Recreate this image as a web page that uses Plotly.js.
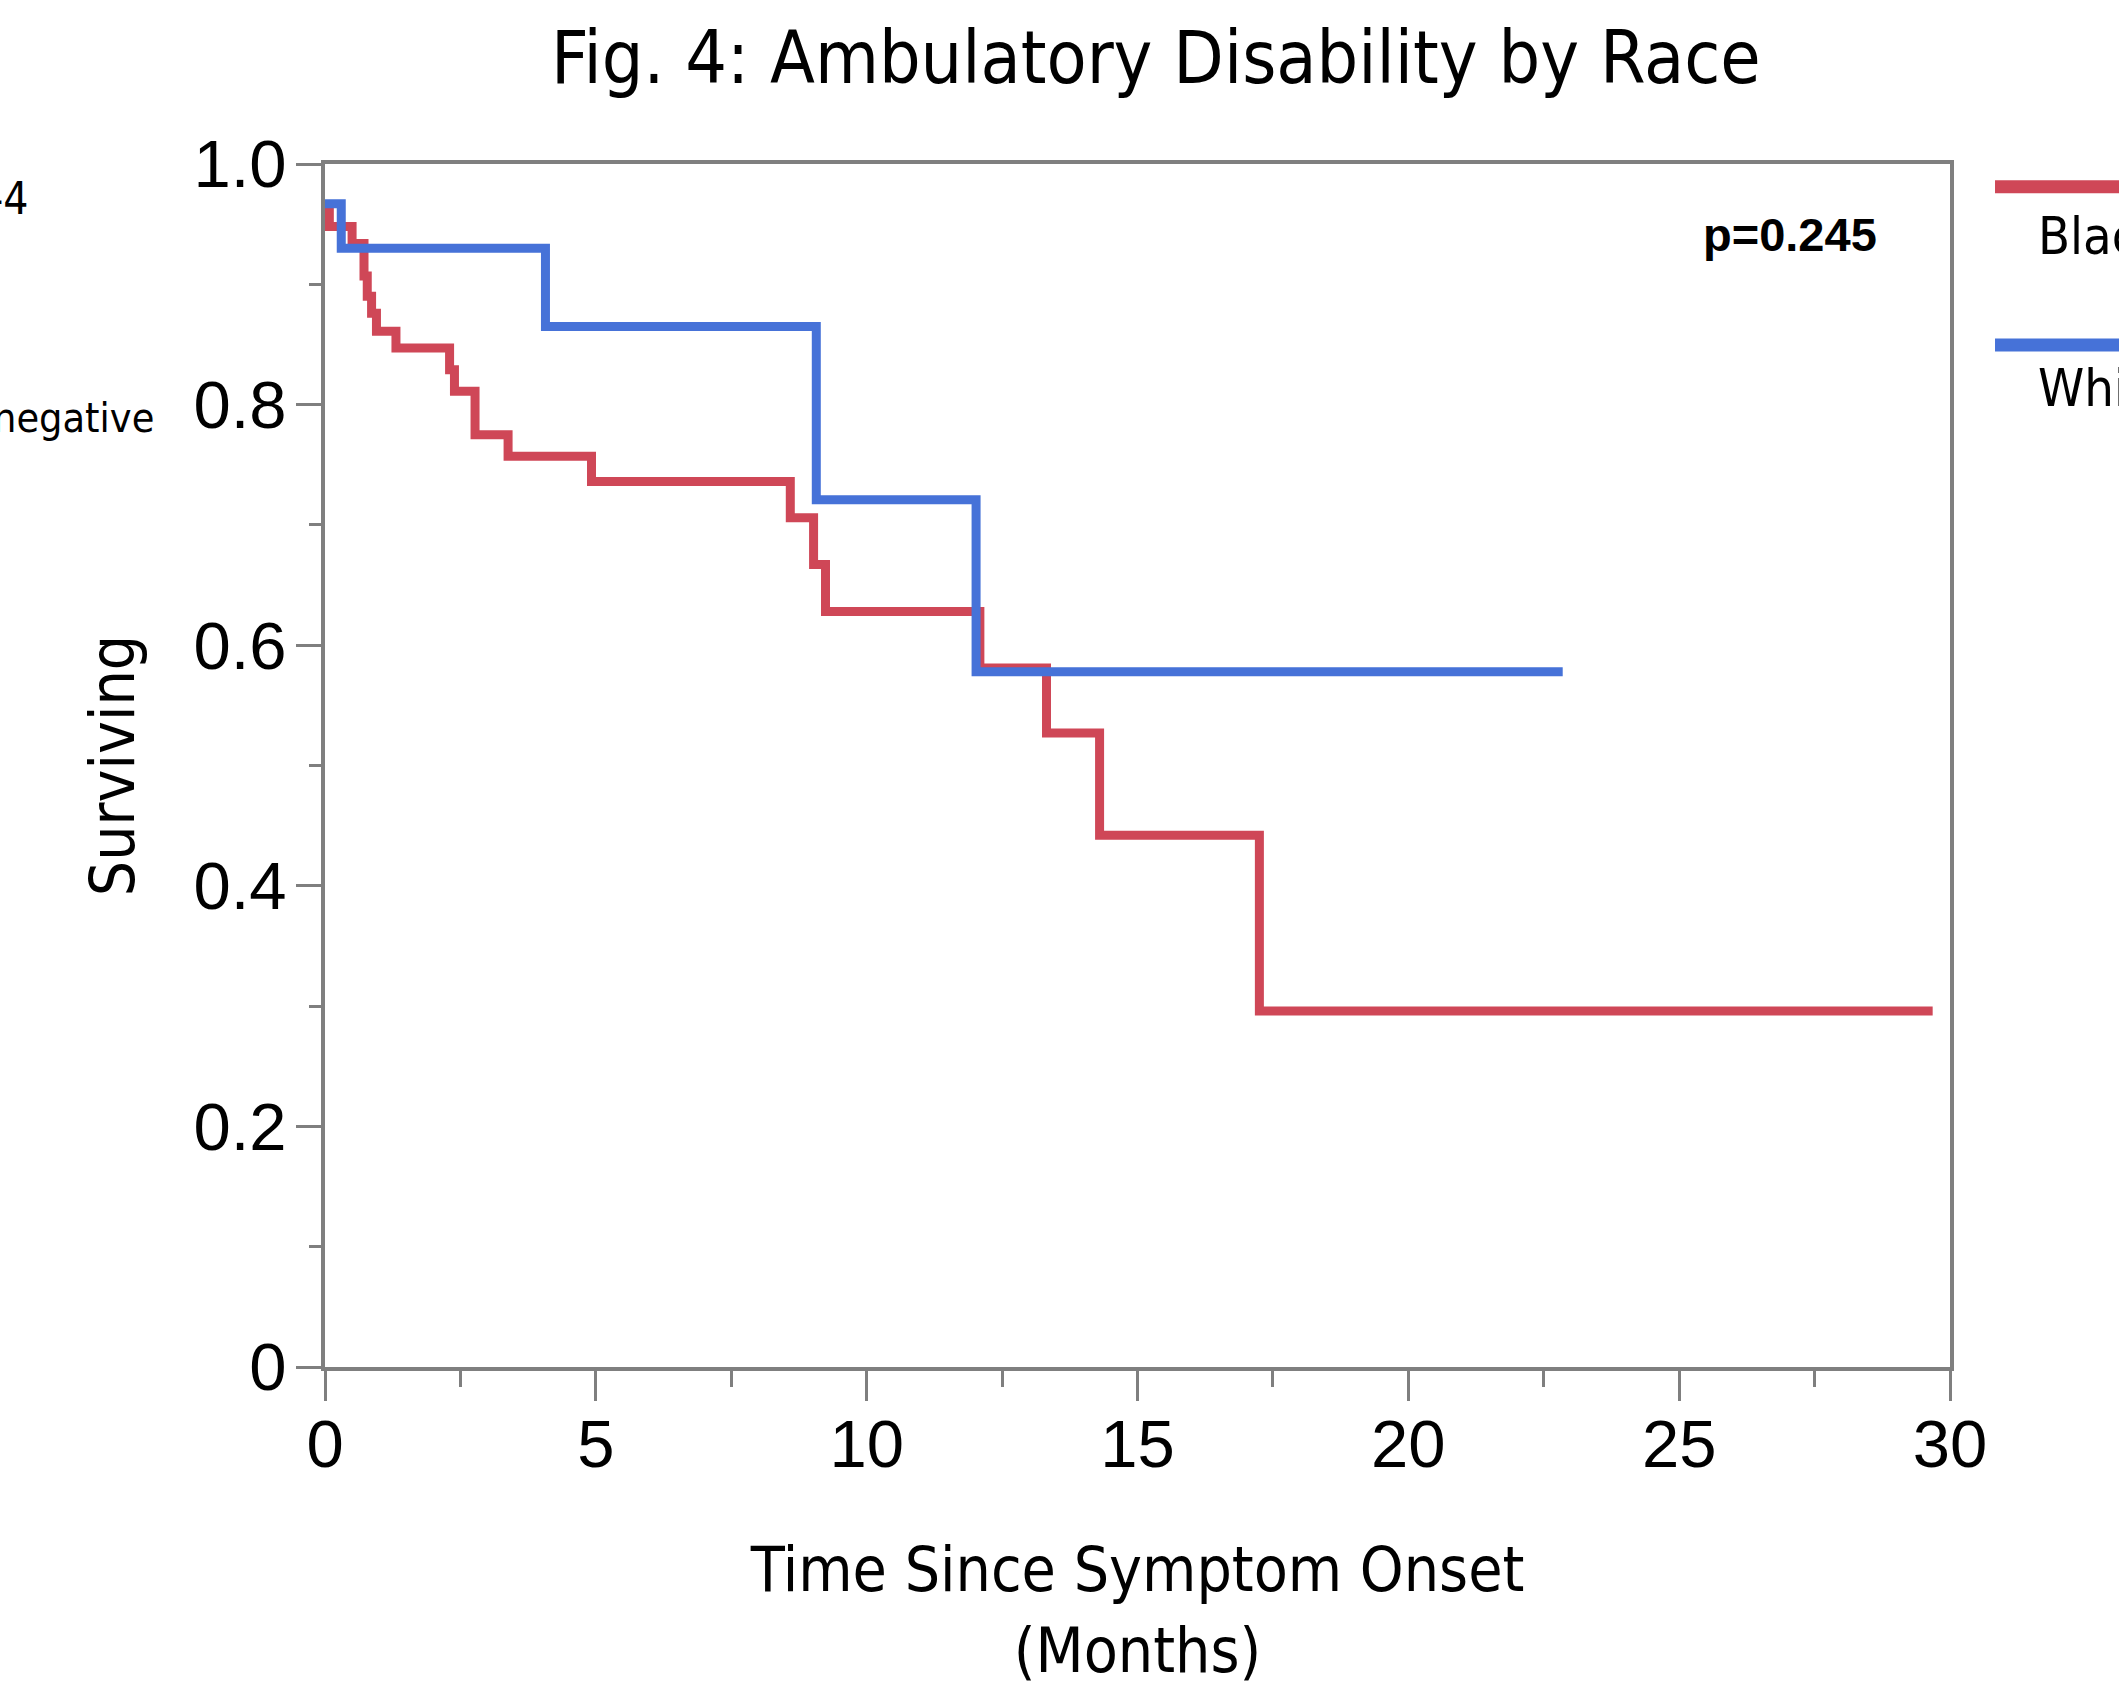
<!DOCTYPE html>
<html>
<head>
<meta charset="utf-8">
<script src="https://cdn.plot.ly/plotly-3.0.1.min.js"></script>
<style>html,body{margin:0;padding:0;background:#fff;}#chart{width:2119px;height:1687px;}</style>
</head>
<body>
<div id="chart"></div>
<script>
// Kaplan-Meier step data (months, survival fraction)
const blackTimes = [0, 0.08, 0.50, 0.72, 0.78, 0.86, 0.95, 1.31, 2.30, 2.39, 2.77, 3.38, 4.92, 8.59, 9.02, 9.24, 12.09, 13.32, 14.30, 17.25, 29.68];
const blackSurv  = [0.960, 0.948, 0.934, 0.907, 0.890, 0.876, 0.861, 0.847, 0.829, 0.811, 0.775, 0.757, 0.736, 0.706, 0.667, 0.628, 0.581, 0.527, 0.442, 0.296, 0.296];
const whiteTimes = [0, 0.30, 4.07, 9.07, 12.02, 22.85];
const whiteSurv  = [0.967, 0.930, 0.865, 0.721, 0.578, 0.578];

const seriesNames = ["Black", "White"];
const yTickVals = [0, 0.2, 0.4, 0.6, 0.8, 1.0];
const yTickText = ["0", "0.2", "0.4", "0.6", "0.8", "1.0"];
const xTickVals = [0, 5, 10, 15, 20, 25, 30];
const xTickText = ["0", "5", "10", "15", "20", "25", "30"];

const RED = "#cf4757", BLUE = "#4672d8", AXIS = "#7f7f7f";
const TXT = "DejaVu Sans Condensed, DejaVu Sans, sans-serif";
const NUM = "Liberation Sans Narrow, Arial Narrow, Liberation Sans, sans-serif";

const traces = [
  {x: blackTimes, y: blackSurv, name: seriesNames[0], mode: "lines", line: {shape: "hv", color: RED, width: 9}, showlegend: false},
  {x: whiteTimes, y: whiteSurv, name: seriesNames[1], mode: "lines", line: {shape: "hv", color: BLUE, width: 9}, showlegend: false}
];

const layout = {
  width: 2119, height: 1687,
  margin: {l: 325, r: 169, t: 164, b: 320},
  paper_bgcolor: "#ffffff", plot_bgcolor: "#ffffff",
  showlegend: false,
  title: {text: "Fig. 4: Ambulatory Disability by Race", font: {family: TXT, size: 73, color: "#000"},
          xref: "container", x: 0.5455, xanchor: "center", yref: "container", y: 0.966, yanchor: "middle"},
  xaxis: {
    range: [0, 30], showgrid: false, zeroline: false,
    showline: true, linecolor: AXIS, linewidth: 4, mirror: true,
    ticks: "outside", ticklen: 30, tickwidth: 3, tickcolor: AXIS,
    tickvals: xTickVals, ticktext: xTickText,
    minor: {dtick: 2.5, tick0: 0, ticks: "outside", ticklen: 16, tickwidth: 3, tickcolor: AXIS},
    tickfont: {family: NUM, size: 67, color: "#000"}, ticklabelstandoff: -14,
    title: {text: "Time Since Symptom Onset<br>(Months)", font: {family: TXT, size: 62, color: "#000"}, standoff: 82}
  },
  yaxis: {
    range: [0, 1], showgrid: false, zeroline: false,
    showline: true, linecolor: AXIS, linewidth: 4, mirror: true,
    ticks: "outside", ticklen: 25, tickwidth: 3, tickcolor: AXIS,
    tickvals: yTickVals, ticktext: yTickText,
    minor: {dtick: 0.1, tick0: 0, ticks: "outside", ticklen: 12, tickwidth: 3, tickcolor: AXIS},
    tickfont: {family: NUM, size: 67, color: "#000"}, ticklabelstandoff: -4,
    title: {text: "Surviving", font: {family: TXT, size: 62, color: "#000"}, standoff: 40}
  },
  shapes: [
    {type: "line", xref: "paper", yref: "paper", x0: 1.0277, x1: 1.2, y0: 0.981, y1: 0.981, line: {color: RED, width: 13}},
    {type: "line", xref: "paper", yref: "paper", x0: 1.0277, x1: 1.2, y0: 0.8495, y1: 0.8495, line: {color: BLUE, width: 13}}
  ],
  annotations: [
    {text: "<b>p=0.245</b>", xref: "paper", yref: "paper", x: 0.9015, y: 0.941, xanchor: "center", yanchor: "middle", showarrow: false,
     font: {family: "Liberation Sans, Arial, sans-serif", size: 47, color: "#000"}},
    {text: seriesNames[0], xref: "paper", yref: "paper", x: 1.0529, y: 0.940, xanchor: "left", yanchor: "middle", showarrow: false,
     font: {family: TXT, size: 52, color: "#000"}},
    {text: seriesNames[1], xref: "paper", yref: "paper", x: 1.0529, y: 0.814, xanchor: "left", yanchor: "middle", showarrow: false,
     font: {family: TXT, size: 52, color: "#000"}},
    {text: "-4", xref: "paper", yref: "paper", x: -0.1815, y: 0.9717, xanchor: "right", yanchor: "middle", showarrow: false,
     font: {family: TXT, size: 44, color: "#000"}},
    {text: "negative", xref: "paper", yref: "paper", x: -0.104, y: 0.789, xanchor: "right", yanchor: "middle", showarrow: false,
     font: {family: TXT, size: 41, color: "#000"}}
  ]
};

Plotly.newPlot("chart", traces, layout, {displayModeBar: false, staticPlot: true});
</script>
</body>
</html>
